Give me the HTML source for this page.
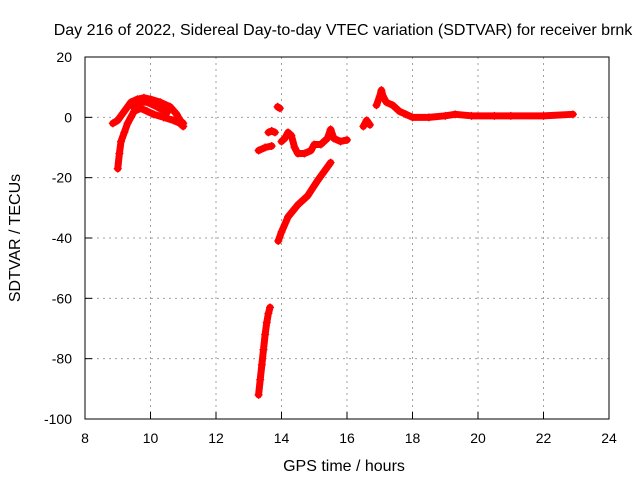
<!DOCTYPE html>
<html><head><meta charset="utf-8"><style>
body{margin:0;background:#fff}
svg text{font-family:"Liberation Sans",sans-serif;font-size:14px;fill:#000}
svg text.big{font-size:16px}
</style></head><body>
<svg width="640" height="480" id="chart">
<rect width="640" height="480" fill="#fff"/>
<text class="big" x="343" y="35" text-anchor="middle">Day 216 of 2022, Sidereal Day-to-day VTEC variation (SDTVAR) for receiver brnk</text>
<text class="big" x="344" y="471" text-anchor="middle">GPS time / hours</text>
<text class="big" transform="translate(20,238) rotate(-90)" text-anchor="middle">SDTVAR / TECUs</text>
<g id="grid"></g><g id="marks"></g>
<rect x="85" y="57" width="524" height="362" fill="none" stroke="#000"/>
</svg>
<script>
const xTicks=[8,10,12,14,16,18,20,22,24];
const yTicks=[20,0,-20,-40,-60,-80,-100];
const trackA=[[8.85,-2],[9.0,-1],[9.2,2],[9.4,5],[9.6,6],[9.8,6.5],[10.0,6],[10.3,5],[10.6,3.5],[10.8,1],[10.9,-1],[11.0,-2]];
const trackB=[[9.0,-17],[9.05,-12],[9.1,-8],[9.2,-5],[9.3,-2],[9.4,0],[9.5,2],[9.7,3],[9.9,2],[10.1,1],[10.4,0],[10.7,-1],[10.9,-2],[11.0,-3]];
const trackC=[[9.5,3],[9.7,5],[9.9,5],[10.2,3.5],[10.5,1.5]];
const trackD=[[13.3,-11],[13.5,-10],[13.7,-9.5]];
const trackE=[[13.6,-5],[13.7,-4.5],[13.8,-5]];
const trackF=[[13.88,3.5],[13.95,3]];
const trackG=[[14.0,-8],[14.1,-7],[14.2,-5],[14.3,-6],[14.4,-10],[14.5,-12],[14.7,-12],[14.9,-11],[15.0,-9],[15.2,-9],[15.4,-7],[15.5,-4],[15.6,-7],[15.8,-8],[16.0,-7.5]];
const trackH=[[13.9,-41],[14.0,-38],[14.2,-33],[14.5,-29],[14.8,-26],[15.1,-21],[15.3,-18],[15.5,-15]];
const trackI=[[13.3,-92],[13.35,-87],[13.4,-82],[13.45,-77],[13.5,-72],[13.55,-68],[13.6,-65],[13.65,-63]];
const trackJ=[[16.5,-3],[16.6,-1],[16.7,-2.5]];
const trackK=[[16.9,4],[17.0,7],[17.05,9],[17.1,7],[17.2,5],[17.4,4],[17.6,2],[17.8,1],[18.0,0],[18.5,0],[19.0,0.5],[19.3,1],[19.8,0.5],[20.5,0.5],[21.0,0.5],[22.0,0.5],[22.9,1]];
const tracks=[trackA,trackB,trackC,trackD,trackE,trackF,trackG,trackH,trackI,trackJ,trackK];
const X=v=>85+(v-8)*524/16, Y=v=>57+(20-v)*362/120;
const NS='http://www.w3.org/2000/svg';
const grid=document.getElementById('grid'), marks=document.getElementById('marks');
function mk(t,a,p){const e=document.createElementNS(NS,t);for(const k in a)e.setAttribute(k,a[k]);p.appendChild(e);return e;}
xTicks.forEach(t=>{
 if(t>8&&t<24){const l=mk('line',{x1:X(t),x2:X(t),y1:57,y2:419,stroke:'#a0a0a0','stroke-dasharray':'2,4'},grid);
 
 }
 const tk=mk('line',{x1:X(t),x2:X(t),y1:419,y2:412,stroke:'#000'},grid);
 
 
 const tx=mk('text',{x:X(t),y:443,'text-anchor':'middle'},grid);tx.textContent=t;
 
 
});
yTicks.forEach(t=>{
 if(t<20&&t>-100){const l=mk('line',{x1:85,x2:609,y1:Y(t),y2:Y(t),stroke:'#a0a0a0','stroke-dasharray':'2,4'},grid);
 
 }
 const tk=mk('line',{x1:85,x2:92,y1:Y(t),y2:Y(t),stroke:'#000'},grid);
 
 
 const tx=mk('text',{x:72,y:Y(t)+5,'text-anchor':'end'},grid);tx.textContent=t;
 
 
});
tracks.forEach(tr=>{
 const pl=mk('polyline',{points:tr.map(p=>X(p[0])+','+Y(p[1])).join(' '),fill:'none',stroke:'#f00','stroke-width':7,'stroke-linejoin':'round','stroke-linecap':'round'},marks);
 
 
 tr.forEach(p=>{
  const x=X(p[0]),y=Y(p[1]);
  const m=mk('path',{d:`M${x-4},${y}H${x+4}M${x},${y-4}V${y+4}`,stroke:'#f00','stroke-width':1.2},marks);
  
  
 });
});
</script>
</body></html>
